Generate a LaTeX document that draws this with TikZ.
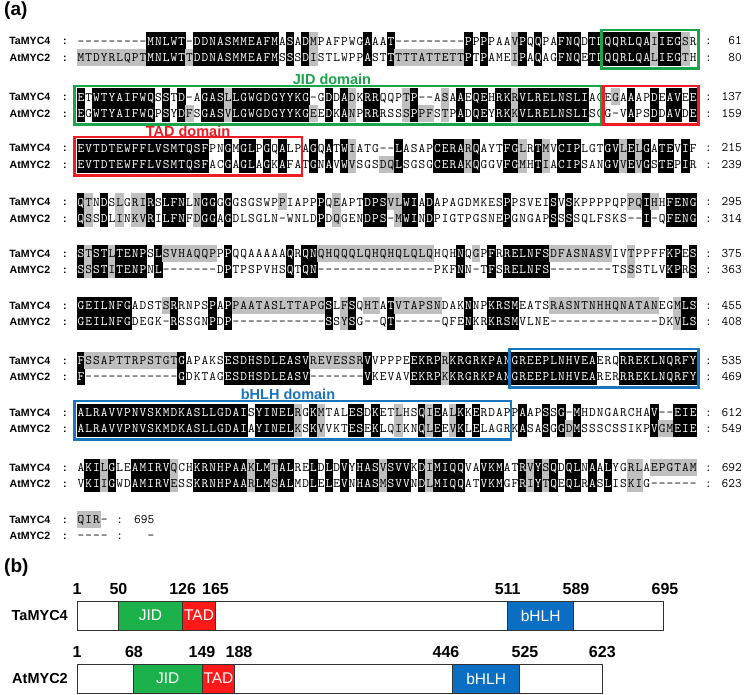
\documentclass[tikz,border=0pt]{standalone}
\usepackage{fontspec}
\setmainfont{Liberation Sans}
\definecolor{seqgray}{HTML}{BFBFBF}
\definecolor{jidg}{HTML}{1AA54B}
\definecolor{tadr}{HTML}{EE1C25}
\definecolor{bhlhb}{HTML}{1B75BC}
\definecolor{jidfill}{HTML}{1DB14B}
\definecolor{tadfill}{HTML}{FF1919}
\definecolor{bhlhfill}{HTML}{0A6FC2}
\tikzset{
  seqch/.style={font=\ttfamily\fontsize{13}{13}\selectfont, inner sep=0pt, anchor=base},
  seqwh/.style={seqch, text=white},
  rowlab/.style={font=\bfseries\fontsize{10.6}{11}\selectfont, inner sep=0pt, anchor=base east},
  lcolon/.style={font=\bfseries\fontsize{10.6}{11}\selectfont, inner sep=0pt, anchor=base},
  rcolon/.style={font=\ttfamily\fontsize{13}{13}\selectfont, inner sep=0pt, anchor=base},
  rnum/.style={font=\ttfamily\fontsize{13}{13}\selectfont, inner sep=0pt, anchor=base east},
  hlblack/.style={fill=black},
  hlgray/.style={fill=seqgray},
  dombox/.style={line width=2.4pt},
  domlab/.style={font=\bfseries\fontsize{14.5}{15}\selectfont, inner sep=0pt},
  panel/.style={font=\bfseries\fontsize{19}{20}\selectfont, inner sep=0pt, anchor=north west},
  barbox/.style={draw=black!80, line width=0.9pt},
  barnum/.style={font=\bfseries\fontsize{16}{16}\selectfont, inner sep=0pt, anchor=base},
  barlab/.style={font=\bfseries\fontsize{14.5}{15}\selectfont, inner sep=0pt, anchor=east},
  domtxt/.style={font=\fontsize{15.5}{16}\selectfont, text=white, inner sep=0pt},
}
\ExplSyntaxOn
\tl_new:N \l__al_x_tl
\tl_new:N \l__al_y_tl
\tl_new:N \l__al_xl_tl
\tl_new:N \l__al_xr_tl
\tl_new:N \l__al_xc_tl
\tl_new:N \l__al_yt_tl
\tl_new:N \l__al_yb_tl
\tl_new:N \l__al_yl_tl
\tl_new:N \l__al_ya_tl
\tl_new:N \l__al_bt_tl
\tl_new:N \l__al_ba_tl
\str_new:N \l__al_a_str
\str_new:N \l__al_b_str
\int_new:N \l__al_ga_int
\int_new:N \l__al_gb_int
\int_new:N \l__al_ca_int
\int_new:N \l__al_cb_int
\tl_const:Nx \c__al_dash_tl { \tl_to_str:n {-} }
\cs_new_protected:Npn \__al_setgroup:Nn #1#2
 {
  \str_case:nnF {#2}
   {
    {D}{\int_set:Nn #1 {1}}
    {N}{\int_set:Nn #1 {1}}
    {E}{\int_set:Nn #1 {2}}
    {Q}{\int_set:Nn #1 {2}}
    {S}{\int_set:Nn #1 {3}}
    {T}{\int_set:Nn #1 {3}}
    {K}{\int_set:Nn #1 {4}}
    {R}{\int_set:Nn #1 {4}}
    {F}{\int_set:Nn #1 {5}}
    {Y}{\int_set:Nn #1 {5}}
    {W}{\int_set:Nn #1 {5}}
    {L}{\int_set:Nn #1 {6}}
    {I}{\int_set:Nn #1 {6}}
    {V}{\int_set:Nn #1 {6}}
    {M}{\int_set:Nn #1 {6}}
   }
   { \int_set:Nn #1 {0} }
 }
\cs_generate_variant:Nn \__al_setgroup:Nn { NV }
\cs_new_protected:Npn \__al_draw:nnn #1#2#3
 {
  \tl_set:Nx \l__al_yt_tl { \fp_eval:n { #2 - 8.5 } }
  \tl_set:Nx \l__al_yb_tl { \fp_eval:n { #2 + 8.5 } }
  \tl_set:Nx \l__al_yl_tl { \fp_eval:n { #2 + 4.4 } }
  \int_case:nnF {#1}
   {
    {2}
     {
      \fill[hlblack]~(\l__al_xl_tl,\l__al_yt_tl)~rectangle~(\l__al_xr_tl,\l__al_yb_tl);
      \node[seqwh]~at~(\l__al_xc_tl,\l__al_yl_tl)~{#3};
     }
    {1}
     {
      \fill[hlgray]~(\l__al_xl_tl,\l__al_yt_tl)~rectangle~(\l__al_xr_tl,\l__al_yb_tl);
      \node[seqch]~at~(\l__al_xc_tl,\l__al_yl_tl)~{#3};
     }
   }
   { \node[seqch]~at~(\l__al_xc_tl,\l__al_yl_tl)~{#3}; }
 }
\cs_new_protected:Npn \AlSeq #1#2#3#4#5#6
 {
  \str_set:Nn \l__al_a_str {#5}
  \str_set:Nn \l__al_b_str {#6}
  \int_step_inline:nn { \str_count:N \l__al_a_str }
   {
    \tl_set:Nx \l__al_x_tl { \str_item:Nn \l__al_a_str {##1} }
    \tl_set:Nx \l__al_y_tl { \str_item:Nn \l__al_b_str {##1} }
    \int_zero:N \l__al_ca_int
    \int_zero:N \l__al_cb_int
    \tl_if_eq:NNTF \l__al_x_tl \l__al_y_tl
     {
      \tl_if_eq:NNF \l__al_x_tl \c__al_dash_tl
       { \int_set:Nn \l__al_ca_int {2} \int_set:Nn \l__al_cb_int {2} }
     }
     {
      \tl_if_eq:NNTF \l__al_x_tl \c__al_dash_tl
       { \int_set:Nn \l__al_cb_int {1} }
       {
        \tl_if_eq:NNTF \l__al_y_tl \c__al_dash_tl
         { \int_set:Nn \l__al_ca_int {1} }
         {
          \__al_setgroup:NV \l__al_ga_int \l__al_x_tl
          \__al_setgroup:NV \l__al_gb_int \l__al_y_tl
          \bool_lazy_and:nnT
           { \int_compare_p:nNn \l__al_ga_int > 0 }
           { \int_compare_p:nNn \l__al_ga_int = \l__al_gb_int }
           { \int_set:Nn \l__al_ca_int {1} \int_set:Nn \l__al_cb_int {1} }
         }
       }
     }
    \tl_set:Nx \l__al_xl_tl { \fp_eval:n { #1 + (##1 - 1) * #2 - 0.3 } }
    \tl_set:Nx \l__al_xr_tl { \fp_eval:n { #1 + ##1 * #2 + 0.3 } }
    \tl_set:Nx \l__al_xc_tl { \fp_eval:n { #1 + (##1 - 0.5) * #2 } }
    \__al_draw:nnn { \l__al_ca_int } {#3} { \l__al_x_tl }
    \__al_draw:nnn { \l__al_cb_int } {#4} { \l__al_y_tl }
   }
 }
\cs_new_protected:Npn \AlLabels #1#2#3#4#5
 {
  \tl_set:Nx \l__al_bt_tl { \fp_eval:n { #1 + 4 } }
  \tl_set:Nx \l__al_ba_tl { \fp_eval:n { #1 + 20.5 } }
  \node[rowlab]~at~(50.5,\l__al_bt_tl)~{TaMYC4};
  \node[rowlab]~at~(50.5,\l__al_ba_tl)~{AtMYC2};
  \node[lcolon]~at~(65,\l__al_bt_tl)~{:};
  \node[lcolon]~at~(65,\l__al_ba_tl)~{:};
  \node[rcolon]~at~(#4,\l__al_bt_tl)~{:};
  \node[rcolon]~at~(#4,\l__al_ba_tl)~{:};
  \node[rnum]~at~(#5,\l__al_bt_tl)~{#2};
  \node[rnum]~at~(#5,\l__al_ba_tl)~{#3};
 }
\cs_new_protected:Npn \AlBlock #1#2#3#4#5
 {
  \tl_set:Nx \l__al_ya_tl { \fp_eval:n { #1 + 16.5 } }
  \AlSeq {77} {7.75} {#1} {\l__al_ya_tl} {#2} {#3}
  \AlLabels {#1} {#4} {#5} {708.5} {742}
 }
\ExplSyntaxOff
\begin{document}
\begin{tikzpicture}[x=1pt,y=-1pt]
\useasboundingbox (0,0) rectangle (744,695);
\fill[white] (0,0) rectangle (744,695);
\node[panel] (pa) at (4,2) {(a)};
\AlBlock{41}{---------MNLWT-DDNASMMEAFMASADMPAFPWGAAAT---------PPPPAAVPQQPAFNQDTLQQRLQAIIEGSR}{MTDYRLQPTMNLWTTDDNASMMEAFMSSSDISTLWPPASTTTTTATTETTPTPAMEIPAQAGFNQETLQQRLQALIEGTH}{61}{80}
\AlBlock{97}{ETWTYAIFWQSSTD-AGASLLGWGDGYYKG-GDDADKRRQQPTP--ASAAEQEHRKRVLRELNSLIACEGAAAPDEAVEE}{EGWTYAIFWQPSYDFSGASVLGWGDGYYKGEEDKANPRRRSSSPPFSTPADQEYRKKVLRELNSLISGG-VAPSDDAVDE}{137}{159}
\AlBlock{148}{EVTDTEWFFLVSMTQSFPNGMGLPGQALPAGQATWIATG--LASAPCERARQAYTFGLRTMVCIPLGTGVLELGATEVIF}{EVTDTEWFFLVSMTQSFACGAGLAGKAFATGNAVWVSGSDQLSGSGCERAKQGGVFGMHTIACIPSANGVVEVGSTEPIR}{215}{239}
\AlBlock{202}{QTNDSLGRIRSLFNLNGGGGGSGSWPPIAPPPQEAPTDPSVLWIADAPAGDMKESPPSVEISVSKPPPPQPPQIHHFENG}{QSSDLINKVRILFNFDGGAGDLSGLN-WNLDPDQGENDPS-MWINDPIGTPGSNEPGNGAPSSSSQLFSKS--I-QFENG}{295}{314}
\AlBlock{253}{STSTLTENPSLSVHAQQPPPQQAAAAAQRQNQHQQQLQHQHQLQLQHQHNQGPFRRELNFSDFASNASVIVTPPFFKPES}{SSSTITENPNL-------DPTPSPVHSQTQN---------------PKFNN-TFSRELNFS--------TSSSTLVKPRS}{375}{363}
\AlBlock{305}{GEILNFGADSTSRRNPSPAPPAATASLTTAPGSLFSQHTATVTAPSNDAKNNPKRSMEATSRASNTNHHQNATANEGMLS}{GEILNFGDEGK-RSSGNPDP------------SSYSG--QT------QFENKRKRSMVLNE--------------DKVLS}{455}{408}
\AlBlock{360}{FSSAPTTRPSTGTGAPAKSESDHSDLEASVREVESSRVVPPPEEKRPRKRGRKPANGREEPLNHVEAERQRREKLNQRFY}{F------------GDKTAGESDHSDLEASV-------VKEVAVEKRPKKRGRKPANGREEPLNHVEARERRREKLNQRFY}{535}{469}
\AlBlock{412}{ALRAVVPNVSKMDKASLLGDAISYINELRGKMTALESDKETLHSQIEALKKERDAPPAAPSSG-MHDNGARCHAV--EIE}{ALRAVVPNVSKMDKASLLGDAIAYINELKSKVVKTESEKLQIKNQLEEVKLELAGRKASASGGDMSSSCSSIKPVGMEIE}{612}{549}
\AlBlock{467}{AKILGLEAMIRVQCHKRNHPAAKLMTALRELDLDVYHASVSVVKDIMIQQVAVKMATRVYSQDQLNAALYGRLAEPGTAM}{VKIIGWDAMIRVESSKRNHPAARLMSALMDLELEVNHASMSVVNDLMIQQATVKMGFRIYTQEQLRASLISKIG------}{692}{623}
\AlSeq{77}{7.75}{519}{535.5}{QIR-}{----}
\AlLabels{519}{695}{-}{119.6}{154.5}
% domain boxes
\draw[dombox, draw=jidg] (601.5,30) rectangle (698.5,68.5);
\node[domlab, text=jidg] (jidlab) at (332,79) {JID domain};
\draw[dombox, draw=jidg] (74.5,86) rectangle (601.5,124.5);
\draw[dombox, draw=tadr] (603.5,86) rectangle (698.5,124.5);
\node[domlab, text=tadr] (tadlab) at (188,131) {TAD domain};
\draw[dombox, draw=tadr] (74.5,137) rectangle (302,175.5);
\draw[dombox, draw=bhlhb] (509.5,349) rectangle (698.5,387.5);
\node[domlab, text=bhlhb] (bhlhlab) at (288,394) {bHLH domain};
\draw[dombox, draw=bhlhb] (74.5,401) rectangle (511,439.5);
% panel b
\node[panel] (pb) at (4,559) {(b)};
\filldraw[barbox, fill=white] (77,601) rectangle (663.1,630);
\filldraw[barbox, fill=jidfill] (118.4,601) rectangle (182.6,630);
\filldraw[barbox, fill=tadfill] (182.6,601) rectangle (215.5,630);
\filldraw[barbox, fill=bhlhfill] (507.7,601) rectangle (573.6,630);
\node[domtxt] (tj) at (150.5,615.5) {JID};
\node[domtxt] (tt) at (199.05,615.5) {TAD};
\node[domtxt] (tb) at (540.65,615.5) {bHLH};
\node[barlab] (tlab) at (68,615.5) {TaMYC4};
\node[barnum] (tn1) at (77,594) {1};
\node[barnum] (tn2) at (118.4,594) {50};
\node[barnum] (tn3) at (182.6,594) {126};
\node[barnum] (tn4) at (215.5,594) {165};
\node[barnum] (tn5) at (507.7,594) {511};
\node[barnum] (tn6) at (576,594) {589};
\node[barnum] (tn7) at (665,594) {695};
\filldraw[barbox, fill=white] (77,664) rectangle (602.3,693);
\filldraw[barbox, fill=jidfill] (133.6,664) rectangle (202,693);
\filldraw[barbox, fill=tadfill] (202,664) rectangle (234.9,693);
\filldraw[barbox, fill=bhlhfill] (452.8,664) rectangle (519.5,693);
\node[domtxt] (aj) at (167.8,678.5) {JID};
\node[domtxt] (at) at (218.45,678.5) {TAD};
\node[domtxt] (ab) at (486.15,678.5) {bHLH};
\node[barlab] (alab) at (68,678.5) {AtMYC2};
\node[barnum] (an1) at (77,657) {1};
\node[barnum] (an2) at (134,657) {68};
\node[barnum] (an3) at (202,657) {149};
\node[barnum] (an4) at (239,657) {188};
\node[barnum] (an5) at (446,657) {446};
\node[barnum] (an6) at (525,657) {525};
\node[barnum] (an7) at (602.3,657) {623};
\end{tikzpicture}
\end{document}
